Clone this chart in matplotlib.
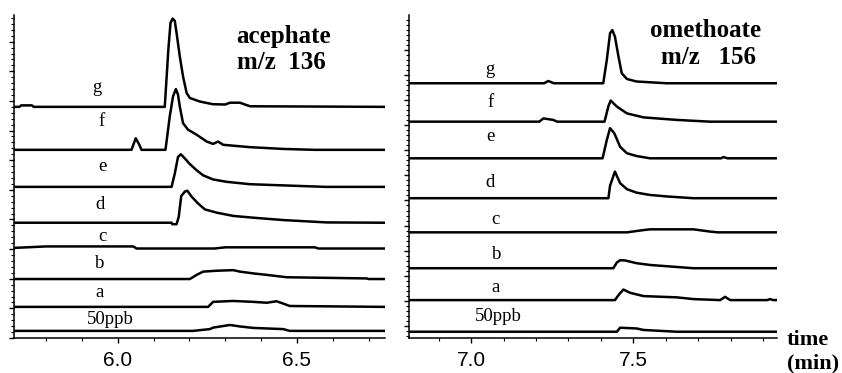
import matplotlib
matplotlib.use("Agg")
import matplotlib.pyplot as plt
from matplotlib.ticker import MultipleLocator, FixedLocator

# ---------------- data ----------------
trace_labels = ["g", "f", "e", "d", "c", "b", "a", "50ppb"]

# acephate (m/z 136): baseline offsets and (time, height above baseline) points
ace_offsets = [7.80, 6.35, 5.10, 3.89, 3.04, 1.99, 1.05, 0.24]
ace_g = [(5.71, 0), (5.725, 0), (5.73, 0.05), (5.76, 0.05), (5.765, 0), (6.131, 0),
         (6.141, 1.93), (6.147, 2.83), (6.153, 2.98), (6.159, 2.9), (6.164, 2.49),
         (6.173, 1.70), (6.182, 1.03), (6.192, 0.47), (6.201, 0.30), (6.229, 0.18),
         (6.265, 0.09), (6.30, 0.08), (6.313, 0.14), (6.341, 0.14), (6.369, 0.02), (6.746, 0)]
ace_f = [(5.71, 0), (6.038, 0), (6.050, 0.39), (6.060, 0.17), (6.066, 0), (6.133, 0),
         (6.145, 1.13), (6.154, 1.80), (6.162, 2.05), (6.168, 1.86), (6.173, 1.46),
         (6.182, 0.90), (6.196, 0.68), (6.220, 0.51), (6.248, 0.28), (6.266, 0.20),
         (6.280, 0.28), (6.294, 0.17), (6.322, 0.14), (6.369, 0.09), (6.462, 0.03), (6.55, 0), (6.746, 0)]
ace_e = [(5.71, 0), (6.150, 0), (6.159, 0.45), (6.168, 1.01), (6.176, 1.10), (6.187, 0.96),
         (6.201, 0.77), (6.220, 0.56), (6.238, 0.39), (6.266, 0.25), (6.304, 0.17),
         (6.369, 0.09), (6.462, 0.05), (6.58, 0), (6.746, 0)]
ace_d = [(5.71, 0), (6.150, 0), (6.152, -0.05), (6.164, -0.05), (6.170, 0.2), (6.177, 0.9),
         (6.187, 1.05), (6.194, 1.08), (6.206, 0.88), (6.224, 0.65), (6.243, 0.45),
         (6.276, 0.34), (6.322, 0.23), (6.378, 0.17), (6.462, 0.09), (6.583, 0.01), (6.746, 0)]
ace_c = [(5.71, 0.0), (5.80, 0.05), (6.043, 0.05), (6.052, -0.02), (6.27, -0.02), (6.30, 0.02),
         (6.55, 0.02), (6.56, -0.02), (6.746, -0.02)]
ace_b = [(5.71, 0), (6.201, 0), (6.220, 0.14), (6.238, 0.25), (6.276, 0.28), (6.322, 0.30),
         (6.341, 0.25), (6.378, 0.19), (6.416, 0.14), (6.472, 0.06), (6.695, 0.02), (6.70, 0), (6.746, 0)]
ace_a = [(5.71, 0), (6.252, 0), (6.266, 0.17), (6.322, 0.20), (6.378, 0.17), (6.416, 0.14),
         (6.443, 0.19), (6.462, 0.11), (6.480, 0.03), (6.746, 0)]
ace_50 = [(5.71, 0), (6.210, 0), (6.257, 0.06), (6.266, 0.11), (6.313, 0.20), (6.341, 0.15),
          (6.378, 0.10), (6.462, 0.06), (6.48, 0), (6.746, 0)]

# omethoate (m/z 156)
ome_offsets = [10.15, 8.62, 7.16, 5.57, 4.21, 2.78, 1.51, 0.25]
ome_g = [(6.81, 0), (7.225, 0), (7.238, 0.09), (7.255, 0), (7.407, 0), (7.418, 0.93),
         (7.428, 1.99), (7.435, 2.12), (7.443, 1.86), (7.454, 1.06), (7.464, 0.40),
         (7.480, 0.17), (7.510, 0.07), (7.603, 0), (7.942, 0)]
ome_f = [(6.81, 0), (7.21, 0), (7.223, 0.13), (7.253, 0.07), (7.265, 0), (7.411, 0),
         (7.423, 0.62), (7.430, 0.84), (7.449, 0.60), (7.480, 0.33), (7.531, 0.17),
         (7.633, 0.07), (7.736, 0), (7.942, 0)]
ome_e = [(6.81, 0), (7.405, 0), (7.418, 0.73), (7.428, 1.20), (7.441, 1.00), (7.459, 0.46),
         (7.480, 0.20), (7.510, 0.09), (7.551, 0), (7.77, 0), (7.777, 0.05), (7.79, 0), (7.942, 0)]
ome_d = [(6.81, 0), (7.423, 0), (7.428, 0.5), (7.443, 1.06), (7.459, 0.60), (7.480, 0.36),
         (7.510, 0.22), (7.551, 0.13), (7.603, 0.07), (7.685, 0), (7.942, 0)]
ome_c = [(6.81, 0), (7.480, 0), (7.531, 0.09), (7.551, 0.12), (7.685, 0.12), (7.736, 0.03),
         (7.76, 0), (7.942, 0)]
ome_b = [(6.81, 0), (7.438, 0), (7.449, 0.23), (7.459, 0.32), (7.474, 0.31), (7.510, 0.20),
         (7.551, 0.13), (7.613, 0.07), (7.685, 0), (7.942, 0)]
ome_a = [(6.81, 0), (7.443, 0), (7.454, 0.20), (7.469, 0.42), (7.490, 0.29), (7.531, 0.16),
         (7.633, 0.11), (7.685, 0.04), (7.767, 0), (7.782, 0.13), (7.798, 0), (7.911, 0),
         (7.921, 0.04), (7.93, 0), (7.942, 0)]
ome_50 = [(6.81, 0), (7.449, 0), (7.459, 0.16), (7.510, 0.13), (7.531, 0.07), (7.633, 0), (7.942, 0)]

ace_traces = [ace_g, ace_f, ace_e, ace_d, ace_c, ace_b, ace_a, ace_50]
ome_traces = [ome_g, ome_f, ome_e, ome_d, ome_c, ome_b, ome_a, ome_50]

ace_label_pos = [(5.941, 8.45), (5.955, 7.30), (5.958, 5.78), (5.950, 4.49),
                 (5.958, 3.41), (5.950, 2.53), (5.950, 1.52), (5.978, 0.61)]
ome_label_pos = [(7.059, 10.68), (7.059, 9.40), (7.059, 8.01), (7.059, 6.18),
                 (7.074, 4.74), (7.080, 3.31), (7.074, 2.03), (7.083, 0.84)]

ace_xticks = [6.0, 6.5]
ome_xticks = [7.0, 7.5]

# ---------------- figure ----------------
W, H = 842, 373
fig = plt.figure(figsize=(W / 100, H / 100), dpi=100)

serif = "Liberation Serif"
sans = "Liberation Sans"


def make_axes(rect, xlim, ylim, xticks, ymajor_start, ymajor_count):
    ax = fig.add_axes(rect)
    ax.set_xlim(*xlim)
    ax.set_ylim(*ylim)
    for s in ("top", "right"):
        ax.spines[s].set_visible(False)
    for s in ("left", "bottom"):
        ax.spines[s].set_linewidth(1.1)
    ax.xaxis.set_major_locator(FixedLocator(xticks))
    ax.xaxis.set_minor_locator(MultipleLocator(0.1))
    ax.set_xticklabels(["%.1f" % v for v in xticks], fontfamily=sans, fontsize=15)
    majors = [ymajor_start + k for k in range(ymajor_count)]
    minors = [ymajor_start + k * 0.2 for k in range(-5, ymajor_count * 5 + 5)]
    minors = [m for m in minors if ylim[0] <= m <= ylim[1]]
    ax.yaxis.set_major_locator(FixedLocator(majors))
    ax.yaxis.set_minor_locator(FixedLocator(minors))
    ax.set_yticklabels([])
    ax.tick_params(axis="both", which="major", direction="out", length=3.5, width=1.0, pad=6)
    ax.tick_params(axis="both", which="minor", direction="out", length=2, width=0.8)
    return ax


def px_rect(x0, x1, ytop, ybot):
    return [x0 / W, 1 - ybot / H, (x1 - x0) / W, (ybot - ytop) / H]


ax1 = make_axes(px_rect(14, 385, 15, 338), (5.71, 6.746), (0, 10.9), ace_xticks, 0.0, 11)
ax2 = make_axes(px_rect(409, 777, 15, 338), (6.809, 7.942), (0, 12.87), ome_xticks, 0.48, 12)

for ax, traces, offsets, lpos in ((ax1, ace_traces, ace_offsets, ace_label_pos),
                                  (ax2, ome_traces, ome_offsets, ome_label_pos)):
    for tr, off, lab, (lx, ly) in zip(traces, offsets, trace_labels, lpos):
        t = [p[0] for p in tr]
        y = [off + p[1] for p in tr]
        ax.plot(t, y, color="black", lw=1.8, solid_joinstyle="round")
        ax.text(lx, ly, lab, fontfamily=serif, fontsize=13.5, ha="center", va="center")

ax1.text(6.332, 10.17, "acephate", fontfamily=serif, fontweight="bold", fontsize=18,
         ha="left", va="center")
ax1.text(6.332, 9.29, "m/z  136", fontfamily=serif, fontweight="bold", fontsize=18,
         ha="left", va="center")
ax2.text(7.721, 12.27, "omethoate", fontfamily=serif, fontweight="bold", fontsize=18,
         ha="center", va="center")
ax2.text(7.730, 11.16, "m/z   156", fontfamily=serif, fontweight="bold", fontsize=18,
         ha="center", va="center")

fig.text(787 / W, 1 - 340 / H, "time", fontfamily=serif, fontweight="bold", fontsize=16,
         ha="left", va="center")
fig.text(787 / W, 1 - 363 / H, "(min)", fontfamily=serif, fontweight="bold", fontsize=16,
         ha="left", va="center")

fig.savefig("out.png", dpi=100)
